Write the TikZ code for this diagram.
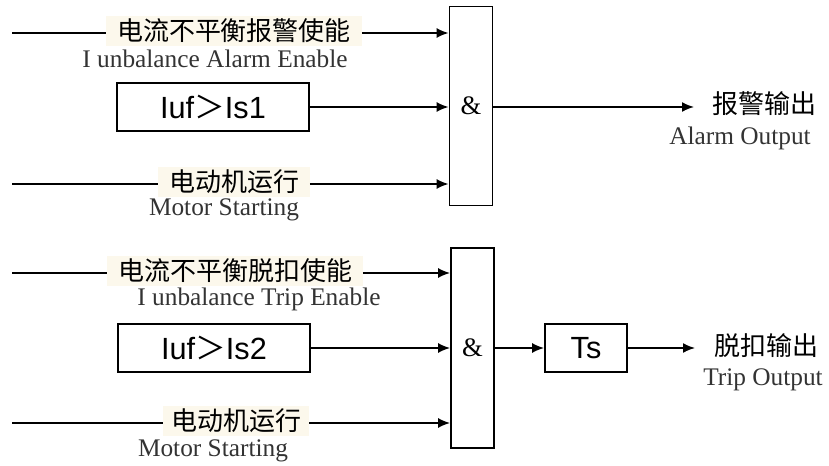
\documentclass[tikz,border=0pt]{standalone}
\usepackage{fontspec}
\newfontfamily\zh{Noto Sans CJK SC}
\newfontfamily\ar{Liberation Sans}
\newfontfamily\sr{Liberation Serif}
\usetikzlibrary{arrows.meta}
\definecolor{labelbg}{HTML}{FCF8EC}
\definecolor{entext}{HTML}{333333}
\tikzset{
  zh/.style={fill=labelbg, inner xsep=8pt, inner ysep=2.5pt, font=\zh\fontsize{19.5}{20}\selectfont},
  en/.style={text=entext, inner sep=0pt, font=\sr\fontsize{19}{20}\selectfont},
  blk/.style={draw, line width=1.3pt, minimum height=36pt, font=\ar\fontsize{23}{24}\selectfont},
  gate/.style={draw, line width=1.3pt, minimum width=32.25pt, font=\sr\fontsize{20}{21}\selectfont},
  wire/.style={line width=1.3pt},
  sig/.style={line width=1.3pt, -{Latex[length=9pt,width=7.5pt]}},
}
\begin{document}
\begin{tikzpicture}[x=0.75pt,y=-0.75pt]
\useasboundingbox (0,0) rectangle (829,466);
% alarm
\node[gate, minimum height=149.25pt] (g1) at (471,106) {\&};
\node[blk, minimum width=144pt] (c1) at (213,107) {Iuf{\zh ＞}Is1};
\node[en] (e1en) at (215,59) {I unbalance Alarm Enable};
\node[en] (m1en) at (224,210) {Motor Starting};
\node[zh] (e1) at (234,31) {电流不平衡报警使能};
\node[zh] (m1) at (234,182) {电动机运行};
\node[zh, fill=none] (o1) at (764,104) {报警输出};
\node[en] (o1en) at (740,138) {Alarm Output};
\coordinate (s1) at (12,33);
\coordinate (s2) at (12,184);
\coordinate (a1) at (694,107);
\draw[wire] (s1) -- (s1 -| e1.west);
\draw[sig] (s1 -| e1.east) -- (s1 -| g1.west);
\draw[sig] (c1) -- (c1 -| g1.west);
\draw[wire] (s2) -- (s2 -| m1.west);
\draw[sig] (s2 -| m1.east) -- (s2 -| g1.west);
\draw[sig] (a1 -| g1.east) -- (a1);
% trip
\node[gate, minimum height=150pt] (g2) at (472.5,348) {\&};
\node[blk, minimum width=144pt] (c2) at (214,348) {Iuf{\zh ＞}Is2};
\node[blk, minimum width=61.5pt] (t2) at (586,348) {Ts};
\node[en] (e2en) at (259,299) {I unbalance Trip Enable};
\node[en] (m2en) at (213,451) {Motor Starting};
\node[zh] (e2) at (235,271) {电流不平衡脱扣使能};
\node[zh, inner xsep=6pt] (m2) at (236,421) {电动机运行};
\node[zh, fill=none] (o2) at (766,346) {脱扣输出};
\node[en] (o2en) at (763,380) {Trip Output};
\coordinate (s3) at (12,273);
\coordinate (s4) at (12,423);
\coordinate (a2) at (695,348);
\draw[wire] (s3) -- (s3 -| e2.west);
\draw[sig] (s3 -| e2.east) -- (s3 -| g2.west);
\draw[sig] (c2) -- (c2 -| g2.west);
\draw[wire] (s4) -- (s4 -| m2.west);
\draw[sig] (s4 -| m2.east) -- (s4 -| g2.west);
\draw[sig] (t2 -| g2.east) -- (t2);
\draw[sig] (t2) -- (a2);
\end{tikzpicture}
\end{document}
